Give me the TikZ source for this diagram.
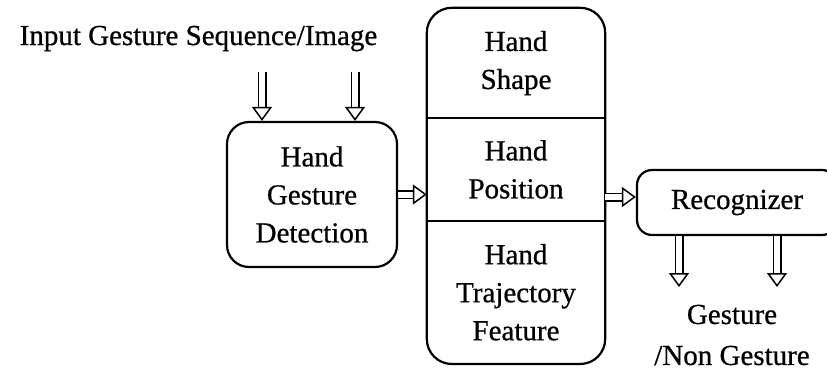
\documentclass[tikz,border=0pt]{standalone}
\usepackage{fontspec}
\setmainfont{Liberation Serif}[FakeBold=0.7]
\usetikzlibrary{positioning,arrows.meta}
\tikzset{
	blk/.style={draw, line width=2.2pt, align=center, inner sep=0pt},
	part/.style={align=center, minimum width=178pt, inner sep=0pt},
	dbl/.style={double, double distance=6pt, line width=1.5pt, -{Triangle[open, length=14pt, width=20pt]}},
}

\begin{document}
\begin{tikzpicture}[x=1pt, y=-1pt, font=\fontsize{29}{38}\selectfont]

	\useasboundingbox (0,0) rectangle (827,370);
	\clip (0,0) rectangle (827,370);

	% input and detection
	\node[anchor=base] (input) at (198.5,45) {Input Gesture Sequence/Image};
	\node[blk, rounded corners=22pt, minimum width=170pt, minimum height=145pt] (hgd) at (312,194.5) {Hand\\Gesture\\Detection};

	% feature block
	\node[part, minimum height=110pt] (shape) at (516,63) {Hand\\Shape};
	\node[part, minimum height=102pt, below=0pt of shape] (pos) {Hand\\Position};
	\node[part, minimum height=143pt, below=0pt of pos] (traj) {Hand\\Trajectory\\Feature};
	\draw[line width=2.2pt, rounded corners=25pt] (shape.north west) rectangle (traj.south east);
	\draw[line width=2.2pt] (shape.south west) -- (shape.south east);
	\draw[line width=2.2pt] (pos.south west) -- (pos.south east);

	% recognizer and output
	\node[blk, rounded corners=15pt, minimum width=200pt, minimum height=65pt] (rec) at (737,202.5) {Recognizer};
	\node[align=center, font=\fontsize{29}{41}\selectfont] (out) at (732,335) {Gesture\\/Non Gesture};

	\coordinate (in1) at (262,72);
	\coordinate (in2) at (355,72);
	\coordinate (o1) at (679,287);
	\coordinate (o2) at (777,287);

	\draw[dbl] (in1) -- (in1 |- hgd.north);
	\draw[dbl] (in2) -- (in2 |- hgd.north);
	\draw[dbl] (hgd.east) -- (hgd.east -| pos.west);
	\draw[dbl] ([yshift=5.5pt]rec.west -| pos.east) -- ([yshift=5.5pt]rec.west);
	\draw[dbl] (o1 |- rec.south) -- (o1);
	\draw[dbl] (o2 |- rec.south) -- (o2);

\end{tikzpicture}
\end{document}
